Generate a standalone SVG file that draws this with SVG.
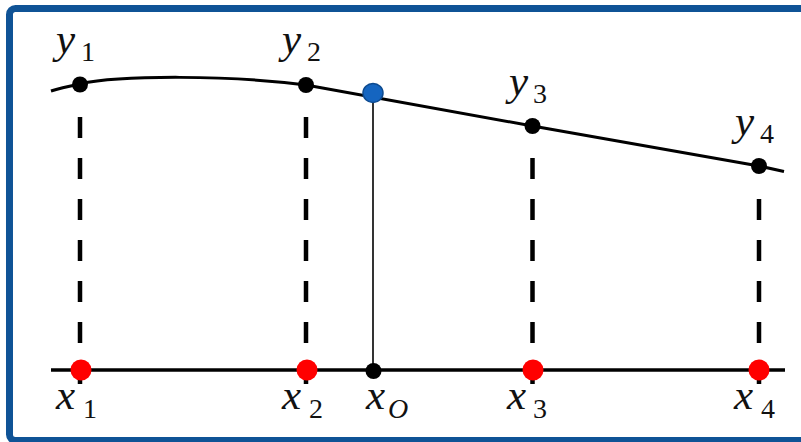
<svg xmlns="http://www.w3.org/2000/svg" width="801" height="442" viewBox="0 0 801 442">
<style>
.m{font-family:"Liberation Serif","DejaVu Serif",serif;font-style:italic;font-size:43px;fill:#111}
.s{font-family:"Liberation Serif","DejaVu Serif",serif;font-size:28px;fill:#111}
.si{font-family:"Liberation Serif","DejaVu Serif",serif;font-style:italic;font-size:28px;fill:#111}
.dash{stroke:#000;stroke-width:4.5;stroke-dasharray:21 20;fill:none}
.pt{fill:#000}
.red{fill:#ff0000}
</style>
<rect x="0" y="0" width="801" height="442" fill="#fff"/>
<rect x="9.5" y="8.5" width="820" height="432" rx="6" fill="#fff" stroke="#0f5396" stroke-width="7"/>
<g id="connectors">
<line class="dash" x1="80" y1="117" x2="80" y2="384"/>
<line class="dash" x1="306" y1="117" x2="306" y2="384"/>
<line class="dash" x1="532.5" y1="158" x2="532.5" y2="384"/>
<line class="dash" x1="759" y1="199" x2="759" y2="384"/>
<line x1="373" y1="94" x2="373" y2="371" stroke="#000" stroke-width="1.6"/>
<line x1="51" y1="370" x2="785" y2="370" stroke="#000" stroke-width="3.5"/>
<path d="M51,91 C60,88 70,86 80,84 C120,75 230,75 306,85 L532.5,126 L759,166 L784,171.5" fill="none" stroke="#000" stroke-width="3"/>
</g>
<g id="y1"><circle class="pt" cx="80" cy="84.5" r="8"/><text class="m" x="56" y="53">y</text><text class="s" x="81" y="61">1</text></g>
<g id="y2"><circle class="pt" cx="306" cy="85" r="8"/><text class="m" x="282" y="53">y</text><text class="s" x="307" y="61">2</text></g>
<g id="y3"><circle class="pt" cx="532.5" cy="126" r="8"/><text class="m" x="509" y="95">y</text><text class="s" x="533" y="103">3</text></g>
<g id="y4"><circle class="pt" cx="759" cy="166" r="8"/><text class="m" x="735" y="135">y</text><text class="s" x="760" y="143">4</text></g>
<g id="interp"><ellipse cx="373" cy="93" rx="10" ry="9.5" fill="#1565c0" stroke="#0d4a8f" stroke-width="1.5"/></g>
<g id="x1"><circle class="red" cx="81" cy="370" r="10.5"/><text class="m" x="56" y="409">x</text><text class="s" x="83" y="418">1</text></g>
<g id="x2"><circle class="red" cx="307" cy="370" r="10.5"/><text class="m" x="282" y="409">x</text><text class="s" x="309" y="418">2</text></g>
<g id="xO"><circle class="pt" cx="373.5" cy="371" r="8"/><text class="m" x="366" y="409">x</text><text class="si" x="388" y="418">O</text></g>
<g id="x3"><circle class="red" cx="533" cy="370" r="10.5"/><text class="m" x="507" y="409">x</text><text class="s" x="533" y="418">3</text></g>
<g id="x4"><circle class="red" cx="759" cy="370" r="10.5"/><text class="m" x="734" y="409">x</text><text class="s" x="761" y="418">4</text></g>
</svg>
